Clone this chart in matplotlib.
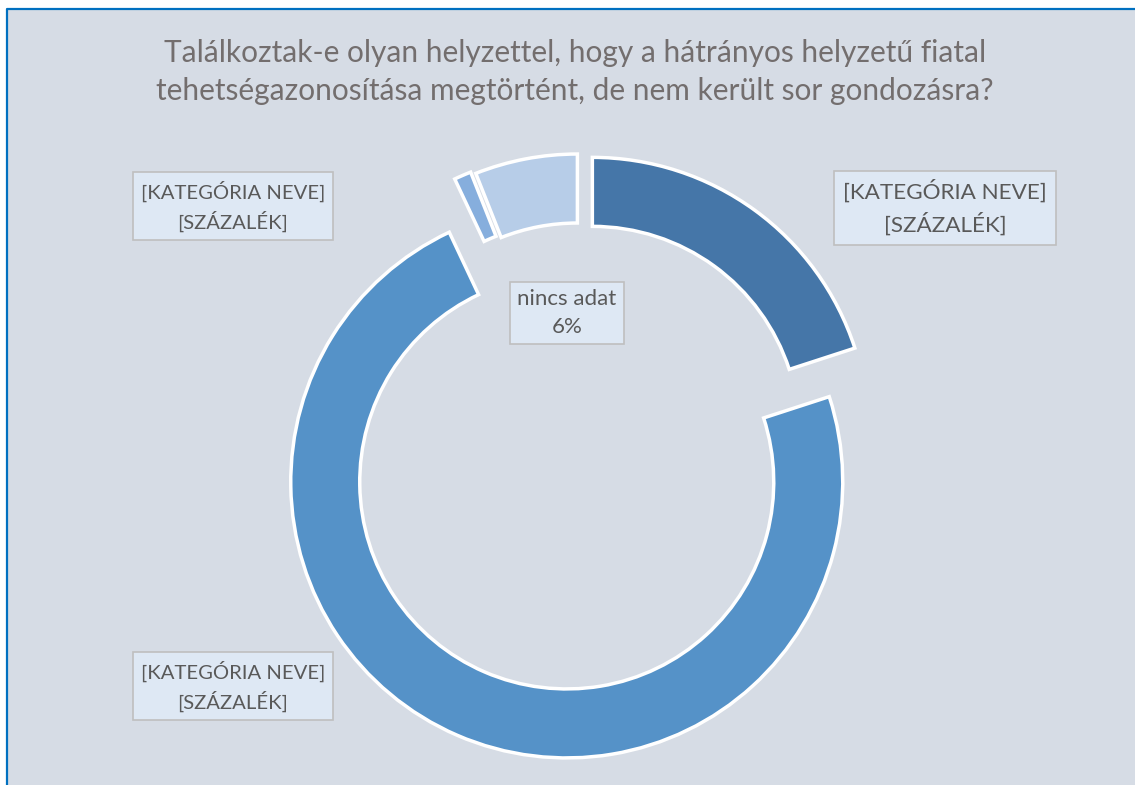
import matplotlib
matplotlib.use("Agg")
import matplotlib.pyplot as plt
from matplotlib.patches import Rectangle
from matplotlib.lines import Line2D

plt.rcParams['font.family'] = ['Lato', 'DejaVu Sans']

# Data
title = ("Találkoztak-e olyan helyzettel, hogy a hátrányos helyzetű fiatal\n"
         "tehetségazonosítása megtörtént, de nem került sor gondozásra?")
values = [20, 73, 1, 6]
colors = ["#4576A8", "#5592C8", "#86AEDD", "#B7CDE8"]
explode_frac = [0.07, 0.13, 0.08, 0.07]
label_texts = [
    "[KATEGÓRIA NEVE]\n[SZÁZALÉK]",
    "[KATEGÓRIA NEVE]\n[SZÁZALÉK]",
    "[KATEGÓRIA NEVE]\n[SZÁZALÉK]",
    "nincs adat\n6%",
]

W, H = 1135, 785
fig = plt.figure(figsize=(W / 100, H / 100), dpi=100)
ax = fig.add_axes([0, 0, 1, 1])

# panel background + blue border on top/left
ax.add_patch(Rectangle((8, 0), W - 8, H - 10, facecolor="#D6DCE5",
                       edgecolor="none", zorder=0))
ax.add_line(Line2D([7, 7, W], [0, H - 9, H - 9], color="#0070C0", lw=1.6, zorder=1))

R = 276
center = (581, H - 449)
ax.pie(values, colors=colors, explode=[e * R for e in explode_frac],
       startangle=90, counterclock=False, radius=R, center=center,
       wedgeprops=dict(width=69, edgecolor="white", linewidth=2.5))

ax.set_xlim(0, W)
ax.set_ylim(0, H)
ax.set_aspect("equal")
ax.axis("off")

ax.text(575, H - 72, title, ha="center", va="center", fontsize=21.5,
        color="#736E6E", linespacing=1.42)

# label positions (dark, big, tiny, light)
label_pos = [(945, H - 208), (233, H - 686), (233, H - 206), (567, H - 313)]
label_size = [16.2, 14.6, 14.6, 16.0]
label_pad = [0.4, 0.4, 0.4, 0.32]
for txt, (x, y), fs, pad in zip(label_texts, label_pos, label_size, label_pad):
    ax.text(x, y, txt, ha="center", va="center", fontsize=fs, color="#595959",
            linespacing=1.5,
            bbox=dict(boxstyle=f"square,pad={pad}", facecolor="#DEE8F4",
                      edgecolor="#BFBFBF", linewidth=1.2))

fig.savefig("out.png", dpi=100, facecolor="white")
